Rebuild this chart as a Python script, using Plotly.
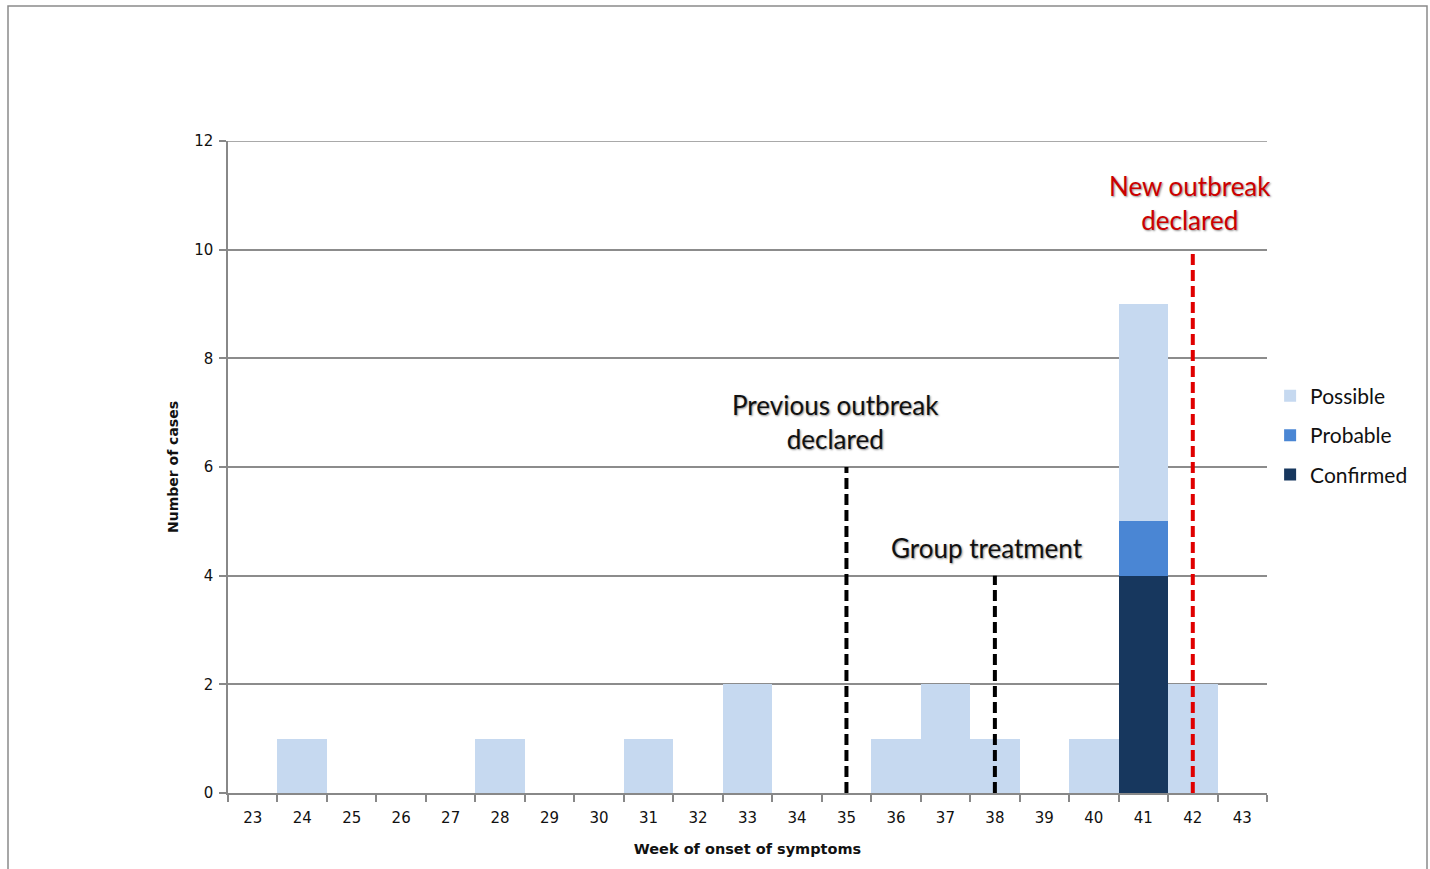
import plotly.graph_objects as go

weeks = list(range(23, 44))
week_labels = [str(w) for w in weeks]
possible = [0, 1, 0, 0, 0, 1, 0, 0, 1, 0, 2, 0, 0, 1, 2, 1, 0, 1, 4, 2, 0]
probable = [0, 0, 0, 0, 0, 0, 0, 0, 0, 0, 0, 0, 0, 0, 0, 0, 0, 0, 1, 0, 0]
confirmed = [0, 0, 0, 0, 0, 0, 0, 0, 0, 0, 0, 0, 0, 0, 0, 0, 0, 0, 4, 0, 0]
y_ticks = [0, 2, 4, 6, 8, 10, 12]

event_weeks = [35, 38, 42]
event_heights = [6, 4, 10]
event_colors = ["#000000", "#000000", "#e00000"]
event_texts = ["Previous outbreak<br>declared", "Group treatment", "New outbreak<br>declared"]
event_text_colors = ["#111111", "#111111", "#cc0000"]
event_text_x = [34.78, 37.85, 41.95]
event_text_y = [6.19, 4.18, 10.22]

fig = go.Figure()
fig.add_bar(x=weeks, y=confirmed, name="Confirmed", legendrank=3, legendgroup="c",
            marker=dict(color="#17375e", line_width=0))
fig.add_bar(x=weeks, y=probable, name="Probable", legendrank=2, legendgroup="b",
            marker=dict(color="#4a86d4", line_width=0))
fig.add_bar(x=weeks, y=possible, name="Possible", legendrank=1, legendgroup="a",
            marker=dict(color="#c6d9f0", line_width=0))

for w, h, c in zip(event_weeks, event_heights, event_colors):
    fig.add_shape(type="line", xref="x", yref="y", x0=w, x1=w, y0=0, y1=h,
                  line=dict(color=c, width=4, dash="11px,5px"), layer="above")

for t, x, y, c in zip(event_texts, event_text_x, event_text_y, event_text_colors):
    fig.add_annotation(x=x, y=y, xref="x", yref="y", text=t, showarrow=False,
                       yanchor="bottom", xanchor="center",
                       font=dict(family="Lato", size=26, color=c,
                                 shadow="1px 1px 2px rgba(0,0,0,0.45)"))

# top gridline at max tick
fig.add_shape(type="line", xref="paper", yref="y", x0=0, x1=1,
              y0=max(y_ticks), y1=max(y_ticks), line=dict(color="#8c8c8c", width=1.5))

W, H = 1430, 869
L, R, T, B = 228, 1267, 141, 793
pw, ph = R - L, B - T
fig.add_shape(type="rect", xref="paper", yref="paper",
              x0=(8 - L) / pw, x1=(1427 - L) / pw,
              y0=(B - 880) / ph, y1=(B - 6) / ph,
              line=dict(color="#8a8a8a", width=1.5), fillcolor="rgba(0,0,0,0)", layer="below")

fig.update_layout(
    width=W, height=H,
    margin=dict(l=L, r=W - R, t=T, b=H - B),
    paper_bgcolor="white", plot_bgcolor="white",
    barmode="stack", bargap=0,
    font=dict(family="DejaVu Sans", color="#111111"),
    legend=dict(x=1.003, y=0.64, xanchor="left", yanchor="top", traceorder="grouped",
                font=dict(family="Lato", size=21, color="#111111"), itemwidth=30,
                tracegroupgap=9, bgcolor="rgba(0,0,0,0)"),
    showlegend=True,
)
fig.update_xaxes(
    range=[22.5, 43.5], tickmode="array", tickvals=weeks, ticktext=week_labels,
    ticks="", showgrid=False, showline=True, linecolor="#888888", linewidth=1.5,
    tickfont=dict(family="DejaVu Sans", size=15, color="#111111"),
    ticklabelstandoff=10,
    minor=dict(tick0=22.5, dtick=1, ticks="outside", ticklen=7, tickcolor="#888888",
               tickwidth=1.5, showgrid=False),
    title=dict(text="<b>Week of onset of symptoms</b>", standoff=18,
               font=dict(family="DejaVu Sans", size=14.5, color="#111111")),
    zeroline=False,
)
fig.update_yaxes(
    range=[0, 12], tickmode="array", tickvals=y_ticks,
    showgrid=True, gridcolor="#8c8c8c", gridwidth=1.5,
    ticks="outside", ticklen=7, tickcolor="#888888", tickwidth=1.5,
    showline=True, linecolor="#888888", linewidth=1.5, zeroline=False,
    tickfont=dict(family="DejaVu Sans", size=15, color="#111111"),
    ticklabelstandoff=3,
    title=dict(text="<b>Number of cases</b>", standoff=12,
               font=dict(family="DejaVu Sans", size=14, color="#111111")),
)

fig.write_html("out.html", config={"displayModeBar": False},
               post_script="document.body.style.margin='0';document.body.style.overflow='hidden';")
